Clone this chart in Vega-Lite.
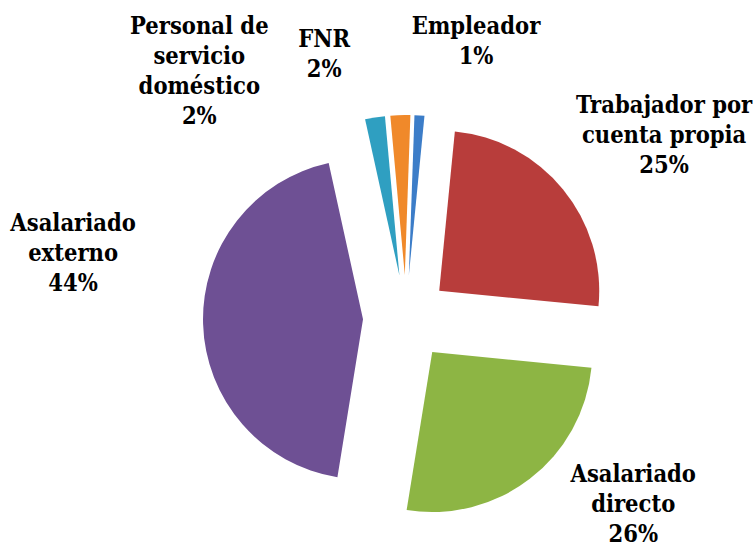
{
  "$schema": "https://vega.github.io/schema/vega-lite/v6.json",
  "width": 700,
  "height": 462,
  "autosize": {"type": "none"},
  "padding": {"left": 56, "top": 87, "right": 0, "bottom": 0},
  "background": "white",
  "view": {"stroke": null},
  "config": {
    "text": {"font": "DejaVu Serif Condensed", "fontWeight": "bold", "fontSize": 23.5, "lineBreak": "\n", "lineHeight": 30, "align": "center", "baseline": "middle", "color": "black"}
  },
  "data": {
    "values": [
      {"categoria": "Empleador", "pct": 1, "orden": 1, "etiqueta": "Empleador\n1%"},
      {"categoria": "Trabajador por cuenta propia", "pct": 25, "orden": 2, "etiqueta": "Trabajador por\ncuenta propia\n25%"},
      {"categoria": "Asalariado directo", "pct": 26, "orden": 3, "etiqueta": "Asalariado\ndirecto\n26%"},
      {"categoria": "Asalariado externo", "pct": 44, "orden": 4, "etiqueta": "Asalariado\nexterno\n44%"},
      {"categoria": "Personal de servicio doméstico", "pct": 2, "orden": 5, "etiqueta": "Personal de\nservicio\ndoméstico\n2%"},
      {"categoria": "FNR", "pct": 2, "orden": 6, "etiqueta": "FNR\n2%"}
    ]
  },
  "encoding": {
    "theta": {"field": "pct", "type": "quantitative", "stack": true, "scale": {"range": [0.035, 6.3182]}},
    "order": {"field": "orden", "type": "quantitative"},
    "detail": {"field": "categoria", "type": "nominal"}
  },
  "layer": [
    {
      "mark": {
        "type": "arc",
        "radius": 160,
        "xOffset": {"expr": "43*sin(scale('theta', (datum.pct_start + datum.pct_end)/2))"},
        "yOffset": {"expr": "-43*cos(scale('theta', (datum.pct_start + datum.pct_end)/2))"}
      },
      "encoding": {
        "color": {
          "field": "categoria",
          "type": "nominal",
          "scale": {
            "domain": ["Empleador", "Trabajador por cuenta propia", "Asalariado directo", "Asalariado externo", "Personal de servicio doméstico", "FNR"],
            "range": ["#3c7dc8", "#b83d3b", "#8db544", "#6e5094", "#2f9fc1", "#f0892a"]
          },
          "legend": null
        }
      }
    },
    {
      "mark": {"type": "text", "radius": 299, "thetaOffset": 0.17},
      "encoding": {"text": {"condition": {"test": "datum.orden == 1", "field": "etiqueta", "type": "nominal"}, "value": ""}}
    },
    {
      "mark": {"type": "text", "radius": 334, "thetaOffset": 0.0},
      "encoding": {"text": {"condition": {"test": "datum.orden == 2", "field": "etiqueta", "type": "nominal"}, "value": ""}}
    },
    {
      "mark": {"type": "text", "radius": 276, "thetaOffset": -0.311},
      "encoding": {"text": {"condition": {"test": "datum.orden == 3", "field": "etiqueta", "type": "nominal"}, "value": ""}}
    },
    {
      "mark": {"type": "text", "radius": 346, "thetaOffset": 0.304},
      "encoding": {"text": {"condition": {"test": "datum.orden == 4", "field": "etiqueta", "type": "nominal"}, "value": ""}}
    },
    {
      "mark": {"type": "text", "radius": 357, "thetaOffset": -0.464},
      "encoding": {"text": {"condition": {"test": "datum.orden == 5", "field": "etiqueta", "type": "nominal"}, "value": ""}}
    },
    {
      "mark": {"type": "text", "radius": 290, "thetaOffset": -0.258},
      "encoding": {"text": {"condition": {"test": "datum.orden == 6", "field": "etiqueta", "type": "nominal"}, "value": ""}}
    }
  ]
}
